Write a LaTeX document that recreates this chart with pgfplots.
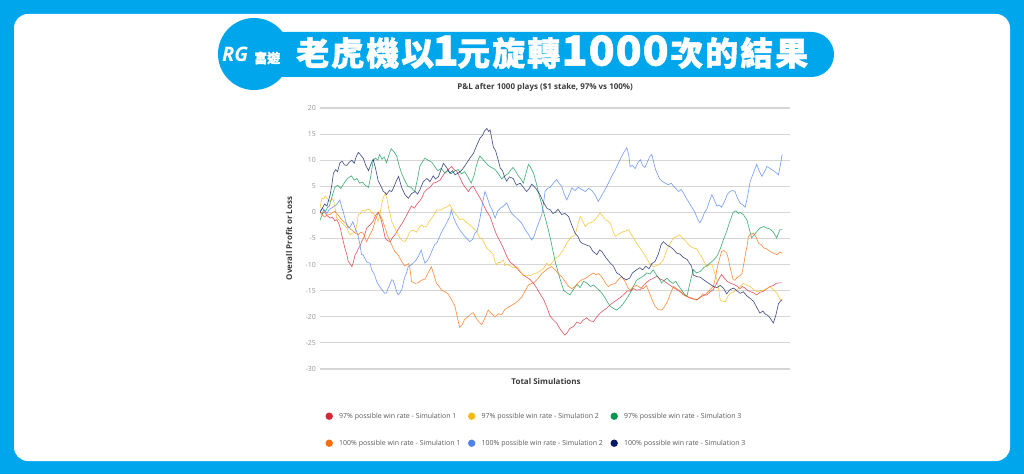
\documentclass[border=0pt]{standalone}
\usepackage{fontspec}
\usepackage{graphicx}
\setmainfont{Open Sans}
\newfontfamily\cjk{Noto Sans CJK TC}[BoldFeatures={FakeBold=1.2}]
\usepackage{pgfplots}
\pgfplotsset{compat=1.18}
\definecolor{bgblue}{RGB}{0,166,236}
\definecolor{gridgray}{RGB}{214,214,214}
\definecolor{tickgray}{RGB}{150,150,150}
\definecolor{labelgray}{RGB}{60,60,60}
\definecolor{legendgray}{RGB}{90,90,90}
\definecolor{cA}{RGB}{214,39,58}
\definecolor{cB}{RGB}{246,186,18}
\definecolor{cC}{RGB}{10,150,80}
\definecolor{cD}{RGB}{250,110,10}
\definecolor{cE}{RGB}{80,130,235}
\definecolor{cF}{RGB}{10,25,100}
\newcommand{\dg}[1]{\scalebox{1.3}[1.25]{#1}}
\begin{document}
\begin{tikzpicture}[x=1pt,y=1pt]
\useasboundingbox (0,0) rectangle (1024,474);
\fill[bgblue] (0,0) rectangle (1024,474);
\fill[white, rounded corners=14pt] (14,13) rectangle (1010,460);
\fill[bgblue, rounded corners=22.5pt] (250,397) rectangle (834,442);
\fill[bgblue] (254,420) circle (36);
\node[anchor=base west, inner sep=0pt, text=white, font=\fontsize{20}{20}\selectfont\bfseries\itshape] at (222,412) {RG};
\node[anchor=base west, inner sep=0pt, text=white, font=\cjk\fontsize{13}{13}\selectfont\bfseries] at (254,411) {富遊};
\node[anchor=base west, inner sep=0pt, text=white, font=\cjk\fontsize{33}{33}\selectfont\bfseries] at (295,408.4) {\makebox[35pt]{老}\makebox[35pt]{虎}\makebox[35pt]{機}\makebox[35pt]{以}\makebox[21pt]{\dg{1}}\makebox[35pt]{元}\makebox[35pt]{旋}\makebox[35pt]{轉}\makebox[27pt]{\dg{1}}\makebox[27pt]{\dg{0}}\makebox[27pt]{\dg{0}}\makebox[27pt]{\dg{0}}\makebox[35pt]{次}\makebox[35pt]{的}\makebox[35pt]{結}\makebox[35pt]{果}};
\begin{axis}[
  at={(320pt,105pt)}, anchor=south west,
  width=470pt, height=261pt, scale only axis,
  xmin=0, xmax=1017, ymin=-30, ymax=20,
  axis line style={draw=none},
  xtick=\empty,
  ytick={-30,-25,...,20},
  ymajorgrids, major grid style={draw=gridgray, line width=1.1pt},
  tick style={draw=none}, major tick length=0pt,
  yticklabel style={font=\fontsize{7}{7}\selectfont, text=tickgray, inner sep=0pt, xshift=-4pt},
  /pgf/number format/assume math mode=true,
  ylabel={Overall Profit or Loss},
  ylabel style={at={(axis description cs:-0.066,0.5)}, anchor=center, font=\fontsize{8}{8}\selectfont\bfseries, text=labelgray},
  xlabel={Total Simulations},
  xlabel style={at={(axis description cs:0.481,0)}, anchor=center, yshift=-12pt, font=\fontsize{8}{8}\selectfont\bfseries, text=labelgray},
  title={P\&L after 1000 plays (\$1 stake, 97\% vs 100\%)},
  title style={at={(axis description cs:0.479,1)}, anchor=center, yshift=15pt, font=\fontsize{8}{8}\selectfont\bfseries, text=labelgray},
  legend columns=3, legend cell align=left,
  legend style={at={(axis description cs:0.01064,-0.1284)}, anchor=north west, draw=none, fill=none, inner sep=0pt, column sep=0pt, row sep=0pt, nodes={inner sep=0pt}, font=\fontsize{7}{7}\selectfont, text=legendgray},
  legend image code/.code={\path[draw=none, fill=none] (0pt,-13.5pt) rectangle (14pt,13.5pt); \fill[#1, opacity=1, draw=none] (4pt,0pt) circle (3.7pt);},
  every axis plot/.append style={line width=0.65pt, opacity=0.75},
]
\addplot[color=cA] coordinates {(0,0) (5,-0.2) (10,0.1) (15,-0.6) (22,-1.1) (27,-0.9) (32,-1.6) (36,-1.4) (40,-2.0) (44,-3.0) (47,-4.3) (50,-5.4) (54,-6.9) (58,-8.0) (61,-9.4) (65,-9.8) (69,-10.4) (72,-9.6) (76,-8.1) (80,-7.6) (83,-6.9) (87,-6.4) (90,-5.6) (95,-4.8) (101,-3.0) (108,-2.4) (115,-1.7) (120,-0.6) (126,0.0) (130,-0.8) (133,-1.6) (137,-3.2) (141,-4.9) (146,-5.4) (152,-5.6) (157,-4.8) (162,-4.3) (167,-3.6) (173,-2.7) (180,-1.8) (188,-0.4) (193,0.4) (198,1.2) (204,0.8) (209,1.5) (214,2.0) (220,2.7) (225,3.8) (231,4.4) (238,4.8) (245,5.6) (252,5.8) (260,6.2) (267,7.2) (274,7.9) (280,8.4) (285,8.8) (290,8.2) (296,7.9) (303,6.6) (310,5.3) (316,4.6) (321,4.0) (327,4.8) (332,5.0) (338,4.0) (346,2.8) (352,1.8) (357,0.8) (362,0.0) (368,-0.8) (375,-2.6) (382,-4.3) (390,-5.6) (397,-6.9) (404,-8.4) (411,-9.5) (418,-10.0) (426,-10.7) (433,-11.4) (440,-12.0) (447,-12.4) (455,-12.9) (462,-13.6) (469,-14.5) (476,-15.6) (484,-16.7) (491,-18.2) (498,-19.9) (505,-20.6) (512,-21.2) (520,-22.4) (525,-23.0) (530,-23.5) (535,-23.0) (541,-22.2) (548,-21.9) (556,-21.0) (563,-21.3) (570,-20.6) (577,-20.2) (585,-20.8) (592,-20.9) (599,-20.0) (606,-19.3) (613,-18.8) (620,-18.4) (628,-17.7) (635,-17.2) (642,-16.8) (648,-16.4) (653,-16.1) (660,-15.5) (666,-15.0) (671,-15.1) (678,-14.6) (685,-14.9) (693,-14.8) (700,-14.0) (707,-13.4) (714,-12.9) (722,-12.6) (729,-12.2) (736,-12.8) (743,-13.0) (750,-13.5) (758,-14.0) (765,-14.4) (772,-14.8) (779,-15.2) (786,-15.6) (794,-16.1) (801,-16.4) (808,-16.6) (816,-16.7) (823,-16.2) (830,-15.9) (837,-15.8) (844,-15.2) (851,-14.8) (857,-13.8) (864,-12.6) (869,-11.9) (875,-12.6) (881,-13.2) (887,-13.5) (895,-13.8) (902,-14.1) (909,-14.6) (914,-14.2) (920,-14.5) (926,-15.0) (932,-15.2) (938,-15.4) (945,-15.8) (952,-15.3) (960,-15.1) (967,-14.6) (974,-14.2) (981,-14.0) (987,-13.6) (992,-13.5) (1000,-13.5)};
\addlegendentry{\makebox[128.5pt][l]{97\% possible win rate - Simulation 1}}
\addplot[color=cB] coordinates {(0,0.8) (4,2.7) (8,2.6) (11,3.1) (16,2.6) (22,2.1) (26,2.6) (29,2.4) (33,0.6) (36,-1.1) (41,-1.4) (47,-2.0) (52,-2.4) (58,-3.0) (62,-3.8) (65,-4.3) (70,-4.0) (76,-3.8) (80,-2.2) (83,-0.4) (88,-0.2) (92,0.4) (97,0.2) (102,0.6) (108,0.5) (112,-0.2) (115,0.0) (120,-0.8) (126,-1.7) (130,-0.4) (133,1.5) (137,2.8) (141,3.7) (145,2.6) (148,1.0) (152,-0.4) (155,-1.7) (159,-2.4) (162,-3.0) (167,-4.0) (173,-4.9) (178,-5.4) (184,-5.6) (190,-4.6) (195,-3.6) (202,-3.4) (209,-3.8) (214,-3.0) (220,-2.4) (225,-2.8) (231,-2.6) (237,-1.6) (242,-1.1) (247,-0.4) (253,0.5) (260,0.4) (267,0.8) (274,1.0) (281,1.5) (285,0.8) (289,0.2) (296,-0.6) (303,-1.4) (308,-1.2) (314,-1.7) (321,-2.2) (328,-2.7) (335,-3.3) (339,-3.6) (346,-5.0) (350,-4.9) (355,-5.8) (361,-6.9) (368,-7.4) (375,-8.1) (379,-9.6) (382,-10.0) (386,-9.6) (390,-9.6) (397,-9.1) (400,-10.2) (405,-10.0) (411,-10.2) (418,-10.6) (426,-10.4) (433,-11.2) (440,-12.2) (447,-12.0) (455,-12.1) (462,-11.8) (469,-11.6) (476,-11.2) (484,-10.7) (491,-9.7) (495,-10.2) (498,-10.2) (504,-9.4) (509,-8.8) (514,-8.6) (519,-8.1) (525,-7.4) (530,-6.5) (536,-5.6) (541,-4.9) (547,-4.6) (552,-4.3) (557,-2.6) (563,-0.8) (568,-1.6) (574,-2.7) (579,-2.2) (584,-2.0) (590,-1.8) (595,-1.4) (600,-0.8) (606,-0.1) (611,-0.6) (617,-1.4) (622,-1.6) (628,-2.0) (633,-3.4) (639,-4.6) (646,-4.2) (653,-3.8) (660,-3.6) (668,-3.3) (672,-4.0) (678,-4.8) (685,-5.9) (692,-6.8) (700,-7.8) (707,-8.8) (714,-9.9) (721,-10.4) (729,-10.2) (736,-9.8) (743,-9.1) (748,-7.8) (754,-6.5) (760,-5.6) (765,-4.9) (772,-4.6) (779,-4.3) (785,-5.0) (790,-5.4) (796,-6.0) (801,-6.5) (808,-6.8) (815,-7.0) (820,-7.8) (826,-8.5) (832,-9.6) (837,-10.4) (843,-10.0) (848,-10.0) (854,-11.6) (859,-12.9) (863,-15.0) (866,-16.8) (871,-17.0) (877,-17.1) (882,-16.2) (887,-15.5) (895,-15.2) (902,-14.9) (909,-14.2) (916,-13.6) (924,-14.0) (931,-14.2) (938,-14.8) (945,-15.2) (952,-15.0) (960,-14.9) (967,-14.6) (974,-14.2) (981,-14.8) (989,-15.5) (993,-16.2) (996,-16.8) (1000,-16.6)};
\addlegendentry{\makebox[128.5pt][l]{97\% possible win rate - Simulation 2}}
\addplot[color=cC] coordinates {(0,-1.5) (4,-0.6) (8,0.5) (12,0.2) (16,0.9) (20,1.2) (26,3.0) (32,4.8) (38,5.2) (45,4.6) (50,5.3) (55,6.0) (61,6.6) (68,7.0) (74,6.2) (80,6.5) (86,5.6) (92,5.8) (98,5.2) (105,4.8) (110,7.0) (115,9.8) (120,10.4) (125,10.0) (129,11.1) (134,10.2) (139,10.6) (144,9.5) (149,11.0) (154,12.2) (160,11.6) (166,10.8) (171,9.0) (176,7.6) (183,6.2) (190,5.0) (197,4.8) (205,4.0) (210,6.0) (216,8.8) (221,9.6) (227,10.4) (234,10.0) (242,9.6) (248,8.8) (255,8.0) (262,8.4) (270,7.6) (277,8.0) (284,7.4) (291,7.9) (299,8.2) (306,7.4) (313,7.8) (320,6.8) (327,5.6) (333,7.0) (338,8.8) (342,10.0) (346,10.8) (352,10.2) (358,9.6) (364,9.0) (371,8.6) (379,8.2) (386,7.4) (393,6.4) (400,7.0) (408,7.5) (413,8.2) (418,8.6) (424,7.8) (429,7.0) (435,6.4) (440,5.6) (446,7.6) (451,9.2) (456,8.6) (462,7.5) (468,5.6) (473,3.7) (479,1.8) (484,0.0) (489,-1.6) (494,-3.3) (500,-5.6) (505,-7.8) (510,-9.8) (516,-11.7) (522,-13.5) (527,-14.9) (534,-15.4) (541,-15.8) (548,-14.8) (556,-13.8) (563,-14.4) (570,-13.2) (577,-13.5) (585,-14.2) (592,-13.9) (599,-14.5) (605,-15.0) (610,-15.5) (617,-16.4) (622,-17.2) (628,-18.0) (635,-18.4) (642,-18.7) (649,-18.2) (656,-17.5) (663,-16.6) (671,-15.5) (678,-14.2) (685,-13.0) (692,-12.6) (700,-12.2) (707,-11.6) (714,-11.8) (721,-11.0) (728,-12.0) (735,-12.8) (739,-13.5) (745,-13.0) (751,-12.6) (757,-13.2) (764,-13.6) (770,-13.2) (775,-14.0) (782,-14.8) (788,-15.6) (794,-16.1) (798,-14.5) (803,-12.6) (808,-11.0) (815,-11.6) (823,-11.3) (830,-10.6) (837,-10.2) (844,-9.7) (851,-9.2) (859,-8.4) (866,-7.0) (873,-5.2) (880,-3.6) (887,-1.7) (894,0.0) (900,0.3) (905,-0.2) (909,0.0) (916,-0.4) (924,-1.5) (929,-3.2) (934,-4.9) (940,-4.2) (945,-3.7) (952,-3.0) (960,-2.7) (967,-3.0) (974,-3.2) (981,-3.8) (988,-4.9) (992,-4.0) (995,-3.3) (1000,-3.3)};
\addlegendentry{\makebox[128.5pt][l]{97\% possible win rate - Simulation 3}}
\addplot[color=cD] coordinates {(0,0) (5,-0.5) (10,-0.9) (16,-0.5) (22,-0.4) (27,0.0) (32,0.2) (36,-0.2) (40,-0.6) (45,-1.2) (50,-1.7) (55,-2.0) (61,-2.6) (66,-3.2) (72,-3.6) (77,-4.0) (83,-4.3) (88,-3.8) (94,-4.0) (98,-5.0) (101,-5.6) (104,-5.0) (108,-4.3) (112,-3.6) (115,-3.0) (120,-1.4) (126,0.0) (130,-0.6) (133,-1.0) (137,-2.0) (141,-3.0) (146,-4.4) (152,-5.6) (157,-6.6) (162,-7.5) (168,-8.0) (173,-8.8) (178,-9.6) (184,-10.3) (188,-10.0) (192,-9.8) (195,-11.0) (198,-13.2) (205,-13.6) (212,-13.5) (219,-13.0) (227,-12.8) (234,-11.6) (241,-10.4) (246,-11.8) (252,-13.6) (258,-14.2) (263,-14.9) (270,-15.2) (277,-15.6) (284,-16.6) (292,-18.0) (297,-20.0) (302,-22.0) (307,-21.6) (313,-20.5) (320,-20.0) (327,-19.4) (332,-19.2) (338,-20.3) (344,-21.0) (350,-21.5) (356,-20.4) (364,-18.7) (371,-19.4) (379,-20.0) (386,-19.4) (393,-19.6) (400,-18.6) (408,-18.1) (415,-17.8) (422,-17.4) (430,-16.8) (437,-16.2) (444,-15.0) (451,-13.9) (458,-13.6) (465,-13.3) (472,-12.6) (480,-11.7) (487,-11.2) (494,-10.7) (501,-10.4) (509,-11.0) (516,-11.8) (523,-12.3) (530,-13.2) (538,-14.2) (545,-14.6) (552,-14.2) (559,-13.4) (567,-12.9) (575,-12.6) (584,-12.0) (592,-11.6) (597,-12.0) (603,-11.7) (608,-12.2) (613,-12.8) (618,-13.6) (624,-14.2) (630,-13.8) (639,-13.6) (646,-12.8) (653,-12.3) (660,-13.2) (666,-14.4) (671,-14.9) (678,-14.2) (685,-14.0) (693,-14.4) (700,-14.6) (706,-14.0) (712,-15.2) (718,-16.6) (725,-18.0) (732,-18.6) (740,-18.7) (746,-18.0) (752,-17.0) (758,-15.6) (765,-14.2) (772,-14.6) (780,-15.2) (786,-15.8) (791,-16.0) (797,-16.2) (804,-16.4) (810,-16.6) (815,-16.8) (822,-16.4) (828,-15.6) (833,-15.8) (840,-15.2) (846,-14.6) (851,-14.2) (856,-12.4) (859,-10.8) (862,-9.7) (866,-8.4) (869,-7.5) (874,-7.3) (880,-7.8) (884,-9.0) (887,-10.4) (891,-11.8) (894,-12.9) (898,-13.0) (902,-12.5) (908,-12.2) (913,-11.7) (918,-9.4) (922,-7.2) (924,-6.5) (927,-4.6) (932,-4.2) (938,-4.0) (944,-4.8) (949,-5.9) (955,-6.2) (960,-6.8) (967,-7.0) (974,-7.5) (981,-7.8) (989,-8.1) (995,-7.6) (1000,-7.8)};
\addlegendentry{\makebox[128.5pt][l]{100\% possible win rate - Simulation 1}}
\addplot[color=cE] coordinates {(0,0.2) (5,0.8) (10,0.4) (15,-0.2) (20,0.6) (26,0.9) (31,1.2) (36,1.5) (40,2.0) (43,2.4) (47,1.0) (50,0.2) (53,-0.8) (58,-2.4) (61,-3.0) (65,-2.8) (71,-1.8) (76,-3.0) (82,-4.3) (86,-6.0) (90,-8.1) (93,-8.1) (97,-8.8) (102,-9.6) (108,-9.7) (112,-11.0) (118,-12.0) (123,-13.3) (129,-14.2) (134,-14.8) (140,-15.5) (144,-15.4) (147,-14.6) (152,-13.6) (155,-12.9) (158,-13.0) (162,-14.0) (166,-15.2) (169,-15.8) (173,-15.4) (177,-14.8) (180,-13.6) (184,-12.2) (187,-11.7) (191,-10.3) (195,-10.2) (198,-10.0) (203,-9.6) (208,-9.1) (213,-8.4) (219,-7.2) (223,-8.6) (227,-9.7) (231,-9.4) (237,-8.5) (242,-7.4) (248,-6.2) (253,-5.8) (259,-4.6) (264,-3.6) (270,-2.7) (275,-1.8) (281,-0.8) (284,0.5) (289,-1.0) (295,-2.2) (302,-3.3) (308,-4.0) (313,-4.6) (318,-5.0) (324,-5.6) (330,-5.2) (335,-4.0) (340,-3.6) (346,-1.2) (350,0.8) (353,2.4) (357,4.0) (362,2.8) (368,1.2) (373,0.4) (379,-1.1) (384,0.2) (390,0.8) (397,1.2) (404,1.8) (410,0.6) (415,-0.2) (422,-0.8) (429,-1.4) (436,-2.0) (444,-3.3) (451,-4.2) (458,-5.3) (463,-4.6) (469,-3.0) (474,-1.8) (480,-0.4) (484,2.0) (487,4.0) (492,4.6) (498,4.8) (505,5.6) (512,6.3) (517,5.6) (523,5.0) (528,3.6) (534,2.4) (540,3.6) (545,4.7) (552,4.2) (559,4.8) (566,4.4) (574,4.0) (581,4.6) (588,4.2) (595,3.4) (602,2.1) (608,3.0) (613,3.8) (617,4.4) (624,5.6) (631,6.9) (638,8.0) (646,9.5) (652,10.6) (658,11.6) (664,12.4) (668,11.0) (671,8.8) (676,9.0) (682,8.4) (687,9.4) (693,10.1) (698,9.0) (703,8.6) (708,9.6) (713,10.6) (718,11.1) (722,9.6) (726,8.2) (729,7.6) (735,6.4) (740,6.0) (747,5.6) (754,5.3) (760,5.6) (765,5.0) (770,4.6) (776,4.0) (781,4.4) (786,3.8) (792,2.8) (797,2.1) (803,1.2) (808,0.5) (812,-0.2) (815,-0.8) (819,-1.6) (822,-2.0) (827,-1.2) (832,0.0) (837,0.6) (842,2.0) (848,3.4) (853,2.4) (859,1.2) (864,1.4) (869,1.0) (875,2.0) (881,3.4) (887,4.0) (893,4.2) (898,4.0) (903,2.8) (909,1.8) (915,1.4) (920,1.0) (925,3.0) (931,6.0) (938,7.6) (945,9.2) (950,8.0) (956,6.9) (962,7.8) (967,8.8) (974,8.4) (981,8.0) (987,7.6) (992,7.2) (996,9.0) (1000,11.1)};
\addlegendentry{\makebox[128.5pt][l]{100\% possible win rate - Simulation 2}}
\addplot[color=cF] coordinates {(0,0) (5,0.8) (10,1.6) (15,1.2) (22,3.4) (26,5.5) (29,7.5) (34,8.2) (38,7.8) (43,9.5) (48,9.8) (53,9.1) (58,9.0) (63,9.6) (69,10.0) (74,9.4) (78,10.6) (83,11.5) (88,11.0) (94,10.3) (99,9.0) (105,8.0) (110,9.2) (115,10.2) (120,8.5) (126,6.0) (131,5.2) (137,4.0) (141,3.8) (144,3.4) (150,4.2) (155,4.0) (159,4.7) (165,6.0) (170,6.9) (174,5.6) (177,4.7) (184,3.4) (191,2.7) (198,3.6) (206,4.0) (211,3.5) (216,4.3) (223,5.8) (231,6.5) (238,5.9) (245,7.0) (250,6.4) (256,6.8) (262,8.2) (267,9.4) (274,8.6) (281,7.5) (287,8.0) (292,7.2) (300,7.6) (307,8.1) (314,9.0) (320,9.8) (326,10.6) (332,11.3) (339,12.8) (346,14.2) (352,14.8) (356,15.6) (361,16.1) (365,15.5) (368,15.8) (372,14.0) (375,12.5) (380,11.8) (385,10.2) (390,8.5) (395,8.0) (400,6.6) (404,6.0) (410,6.8) (418,6.5) (425,5.2) (433,5.6) (440,4.8) (447,4.0) (453,4.6) (458,5.4) (462,5.1) (468,4.5) (476,3.4) (483,2.0) (491,0.8) (498,0.5) (504,-0.2) (509,0.0) (515,0.6) (523,-0.4) (530,-0.2) (538,-0.8) (545,-2.5) (552,-4.0) (558,-4.6) (563,-5.6) (567,-5.9) (575,-6.2) (584,-6.5) (590,-7.4) (599,-8.1) (605,-7.2) (610,-7.5) (618,-8.6) (628,-9.7) (635,-10.3) (642,-11.6) (648,-11.9) (656,-12.6) (663,-12.9) (670,-12.6) (676,-11.6) (685,-11.0) (692,-10.6) (698,-11.0) (705,-10.3) (712,-10.8) (718,-9.8) (725,-9.4) (732,-8.0) (738,-6.2) (743,-5.6) (750,-6.2) (758,-6.6) (765,-7.1) (772,-7.8) (779,-8.0) (786,-8.6) (794,-9.0) (800,-9.8) (804,-10.3) (808,-12.0) (815,-12.3) (822,-12.4) (830,-12.9) (838,-13.4) (845,-13.8) (851,-14.2) (859,-14.4) (866,-14.0) (873,-14.5) (880,-15.6) (887,-14.8) (895,-14.5) (902,-15.0) (909,-15.5) (916,-15.2) (924,-16.0) (931,-16.5) (938,-17.0) (945,-18.2) (952,-19.3) (958,-18.9) (964,-19.5) (970,-19.8) (976,-20.5) (981,-21.2) (986,-19.8) (992,-17.5) (996,-17.0) (1000,-16.8)};
\addlegendentry{\makebox[128.5pt][l]{100\% possible win rate - Simulation 3}}
\end{axis}
\end{tikzpicture}
\end{document}
